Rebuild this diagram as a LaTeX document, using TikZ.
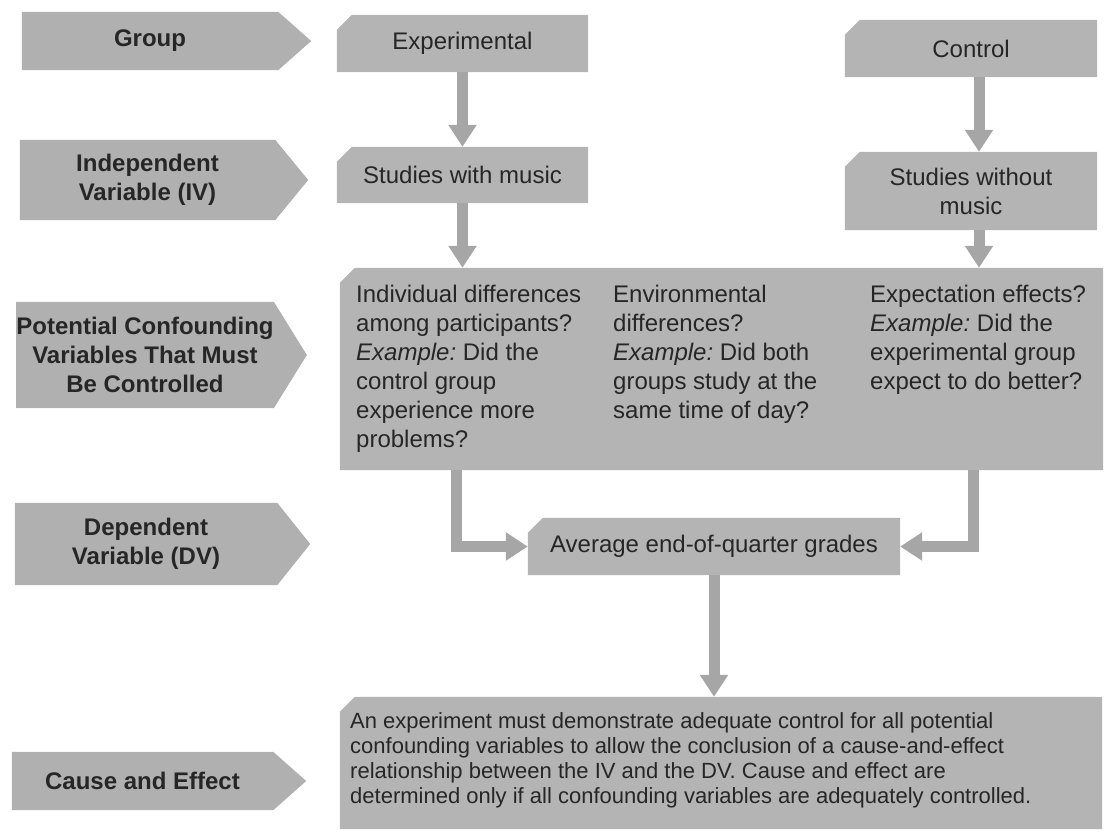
\documentclass[tikz,border=0pt]{standalone}
\usepackage{fontspec}
\setmainfont{Liberation Sans}
\usetikzlibrary{arrows.meta,backgrounds,calc}
\definecolor{boxgray}{HTML}{B4B4B4}
\definecolor{labgray}{HTML}{B0B0B0}
\definecolor{arrgray}{HTML}{A6A6A6}
\definecolor{txt}{HTML}{262626}
\frenchspacing
\begin{document}
\frenchspacing
\begin{tikzpicture}[x=1pt,y=-1pt,
  lab/.style={rectangle, inner sep=0pt, align=center, text=txt,
    font=\fontsize{24}{29}\selectfont\bfseries},
  cbox/.style={rectangle, inner sep=0pt, align=center, text=txt,
    font=\fontsize{24}{29}\selectfont},
  coltext/.style={anchor=north west, inner sep=0pt, align=left, text=txt,
    font=\fontsize{24}{29}\selectfont\frenchspacing},
  arr/.style={draw=arrgray, line width=11pt, -{Triangle[width=27pt,length=22pt]}},
]
\useasboundingbox (0,0) rectangle (1105,831);

% left labels
\node[lab, minimum width=256pt, minimum height=58pt] (group) at (150,41) {Group};
\node[lab, minimum width=255pt, minimum height=80pt] (iv) at (147.5,180) {Independent\\Variable (IV)};
\node[lab, minimum width=256pt, minimum height=106pt] (pcv) at (145,355) {Potential Confounding\\Variables That Must\\Be Controlled};
\node[lab, minimum width=262pt, minimum height=82pt] (dv) at (146,544) {Dependent\\Variable (DV)};
\node[lab, minimum width=261pt, minimum height=58pt] (ce) at (142.5,781) {Cause and Effect};

% right boxes
\node[cbox, minimum width=251pt, minimum height=57pt] (exp) at (462.5,43.5) {Experimental};
\node[cbox, minimum width=251pt, minimum height=56pt] (swm) at (462.5,175) {Studies with music};
\node[cbox, minimum width=252pt, minimum height=57pt] (ctl) at (971,48.5) {Control};
\node[cbox, minimum width=252pt, minimum height=78pt] (swo) at (971,191) {Studies without\\music};
\node[rectangle, inner sep=0pt, minimum width=763pt, minimum height=202pt] (cbig) at (721.5,369) {};
\node[cbox, minimum width=372pt, minimum height=57pt] (avg) at (714,546.5) {Average end-of-quarter grades};
\node[rectangle, inner sep=0pt, minimum width=762pt, minimum height=132pt] (concl) at (721,763) {};

% texts inside the confounding box
\node[coltext] (c1) at (356,285) {Individual differences\\among participants?\\\textit{Example:} Did the\\control group\\experience more\\problems?};
\node[coltext] (c2) at (613,285) {Environmental\\differences?\\\textit{Example:} Did both\\groups study at the\\same time of day?};
\node[coltext] (c3) at (870,285) {Expectation effects?\\\textit{Example:} Did the\\experimental group\\expect to do better?};
\node[anchor=north west, inner sep=0pt, align=left, text=txt,
  font=\fontsize{22}{25}\selectfont\frenchspacing] (ctext) at (350,712)
  {An experiment must demonstrate adequate control for all potential\\
   confounding variables to allow the conclusion of a cause-and-effect\\
   relationship between the IV and the DV. Cause and effect are\\
   determined only if all confounding variables are adequately controlled.};

% shapes
\begin{scope}[on background layer]
  \foreach \n in {group,iv,pcv,dv,ce}
    \fill[labgray] (\n.north west) -- (\n.north east) -- ([xshift=33pt]\n.east)
      -- (\n.south east) -- (\n.south west) -- cycle;
  \foreach \n in {exp,swm,ctl,swo,cbig,avg,concl}
    \fill[boxgray] (\n.south west) -- ([yshift=-15pt]\n.north west)
      -- ([xshift=15pt]\n.north west) -- (\n.north east) -- (\n.south east) -- cycle;
\end{scope}

% connectors
\draw[arr] (exp.south) -- (swm.north);
\draw[arr] (swm.south) -- (swm.south |- cbig.north);
\draw[arr] ([xshift=8pt]ctl.south) -- ([xshift=8pt]swo.north);
\draw[arr] ([xshift=8pt]swo.south) -- ([xshift=8pt]swo.south |- cbig.north);
\draw[arr] ([xshift=117pt]cbig.south west) |- (avg.west);
\draw[arr] ([xshift=-130pt]cbig.south east) |- (avg.east);
\draw[arr] (avg.south) -- (avg.south |- concl.north);
\end{tikzpicture}
\end{document}
